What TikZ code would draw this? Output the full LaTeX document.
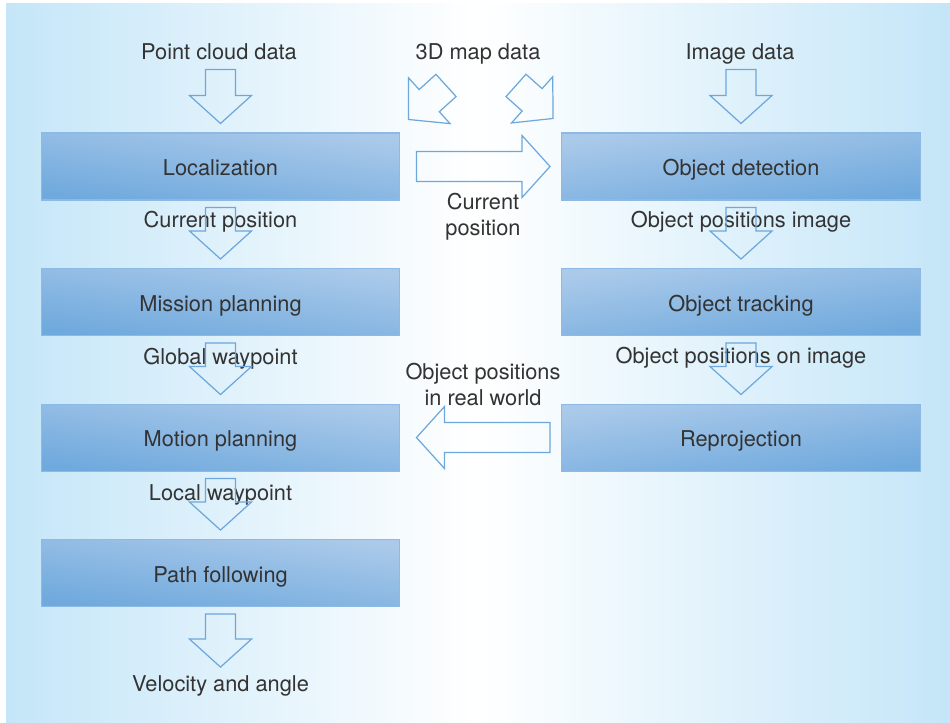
\documentclass[tikz,border=0pt]{standalone}
\usepackage{fontspec}
\setmainfont{TeX Gyre Heros}
\usetikzlibrary{
positioning,
calc
}
\definecolor{bgblue}{HTML}{C4E6F8}
\definecolor{boxdark}{HTML}{6FA9DD}
\definecolor{boxlight}{HTML}{ABCAEA}
\definecolor{boxline}{HTML}{8CBAE4}
\definecolor{arrowblue}{HTML}{6EA7DB}
\definecolor{textgray}{HTML}{333333}

\newcommand{\hollowarrow}[2]{%
\coordinate (ha-s) at (#1);
\coordinate (ha-e) at (#2);
\coordinate (ha-b) at ($(ha-e)!0.56cm!(ha-s)$);
\draw[hollow] ($(ha-s)!0.3cm!90:(ha-e)$) -- ($(ha-b)!0.3cm!-90:(ha-s)$)
  -- ($(ha-b)!0.62cm!-90:(ha-s)$) -- (ha-e) -- ($(ha-b)!0.62cm!90:(ha-s)$)
  -- ($(ha-b)!0.3cm!90:(ha-s)$) -- ($(ha-s)!0.3cm!-90:(ha-e)$) -- cycle;}

\begin{document}
\begin{tikzpicture}[
x=0.02cm, y=-0.02cm,
node distance=1.35cm,
box/.style={
rectangle,
draw=boxline,
line width=0.6pt,
top color=boxlight,
bottom color=boxdark,
minimum width=7.18cm,
minimum height=1.34cm,
text height=10.3pt,
text depth=0pt,
text=textgray,
font=\fontsize{12.4}{14.8}\selectfont
},
boxl/.style={box, shading angle=-8},
boxr/.style={box, shading angle=8},
lbl/.style={text=textgray, align=center, inner sep=0pt, font=\fontsize{12.4}{14.8}\selectfont},
hollow/.style={draw=arrowblue, line width=0.7pt, line join=miter}
]

\useasboundingbox[fill=white] (0,0) rectangle (950,723);
\shade[left color=bgblue, right color=bgblue, middle color=white] (6,4) rectangle (950,723);

\node[boxl] (loc) at (220.5,166.5) {Localization};
\node[boxl, below=of loc] (mis) {Mission planning};
\node[boxl, below=of mis] (mot) {Motion planning};
\node[boxl, below=of mot] (pat) {Path following};

\node[boxr] (det) at (741,166.5) {Object detection};
\node[boxr, below=of det] (trk) {Object tracking};
\node[boxr, below=of trk] (rep) {Reprojection};

\node[lbl, anchor=base] (pcd) at (219,60) {Point cloud data};
\node[lbl, anchor=base] (map) at (478,60) {3D map data};
\node[lbl, anchor=base] (imd) at (740,60) {Image data};

\node[lbl, anchor=base] (cpos) at ([yshift=-0.54cm]loc.south) {Current position};
\node[lbl, anchor=base] (gwp) at ([yshift=-0.56cm]mis.south) {Global waypoint};
\node[lbl, anchor=base] (lwp) at ([yshift=-0.58cm]mot.south) {Local waypoint};
\node[lbl, anchor=base] (vel) at ([yshift=-1.68cm]pat.south) {Velocity and angle};
\node[lbl, anchor=base] (opi) at ([yshift=-0.53cm]det.south) {Object positions image};
\node[lbl, anchor=base] (opo) at ([yshift=-0.54cm]trk.south) {Object positions on image};
\node[lbl] (curpos) at (483,217) {Current\\position};
\node[lbl] (realw) at (483,385) {Object positions\\in real world};

\hollowarrow{[yshift=1.26cm]loc.north}{[yshift=0.18cm]loc.north}
\hollowarrow{[yshift=1.26cm]det.north}{[yshift=0.18cm]det.north}
\hollowarrow{[shift={(-32,31)}]map.center}{[shift={(8,-13)}]loc.north east}
\hollowarrow{[shift={(38,31)}]map.center}{[shift={(-8,-14)}]det.north west}
\hollowarrow{[yshift=-0.14cm]loc.south}{[yshift=0.18cm]mis.north}
\hollowarrow{[yshift=-0.14cm]mis.south}{[yshift=0.18cm]mot.north}
\hollowarrow{[yshift=-0.14cm]mot.south}{[yshift=0.18cm]pat.north}
\hollowarrow{[yshift=-0.14cm]pat.south}{[yshift=-1.2cm]pat.south}
\hollowarrow{[yshift=-0.14cm]det.south}{[yshift=0.18cm]trk.north}
\hollowarrow{[yshift=-0.14cm]trk.south}{[yshift=0.18cm]rep.north}
\hollowarrow{[xshift=0.32cm]loc.east}{[xshift=-0.22cm]det.west}
\hollowarrow{[xshift=-0.22cm]rep.west}{[xshift=0.32cm]mot.east}

\end{tikzpicture}
\end{document}
